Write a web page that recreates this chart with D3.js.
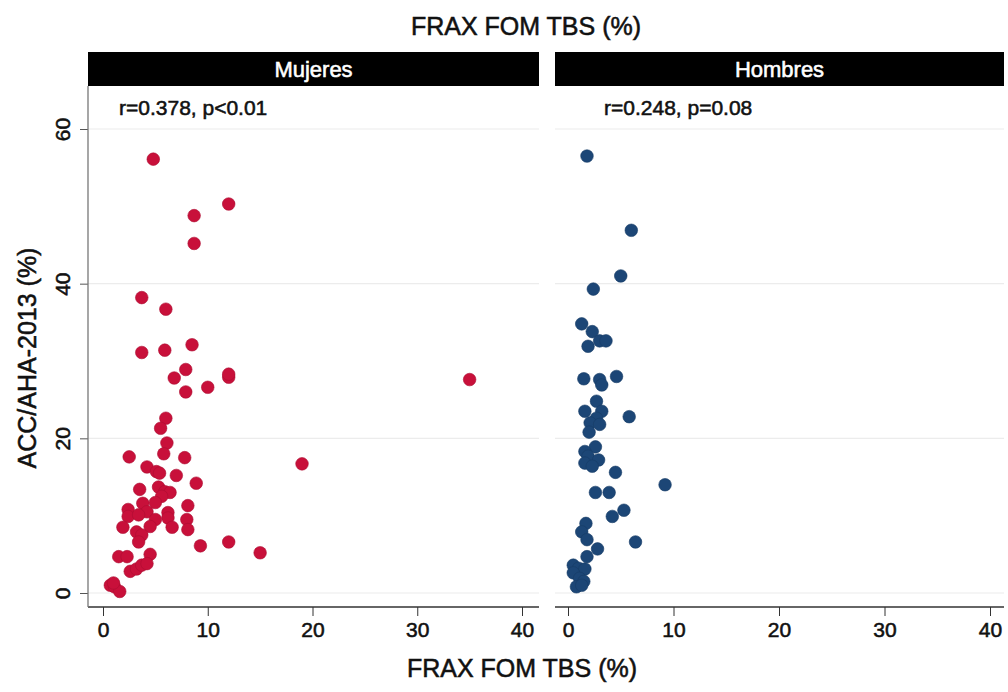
<!DOCTYPE html>
<html><head><meta charset="utf-8">
<script src="https://cdn.jsdelivr.net/npm/d3@7"></script>
<style>body{margin:0;background:#fff;} text{font-family:"Liberation Sans",Arial,Helvetica,sans-serif;}</style>
</head><body>
<svg id="c" width="1008" height="692"></svg>
<script>
const panels = ["Mujeres", "Hombres"];
const annotations = ["r=0.378, p<0.01", "r=0.248, p=0.08"];
const xTicks = [0, 10, 20, 30, 40];
const yTicks = [0, 20, 40, 60];
const womenX = [4.8,12.0,8.7,8.7,3.7,6.0,3.7,5.9,8.5,7.9,6.8,12.0,12.0,10.0,7.9,15.0,35.0,19.0,6.0,5.5,6.1,5.8,2.5,7.8,4.2,5.1,5.4,7.0,8.9,3.5,5.3,5.9,6.4,5.6,5.0,3.8,8.1,2.4,4.2,6.2,2.4,3.4,5.0,6.2,8.0,1.9,4.5,6.6,8.1,3.2,3.7,3.4,12.0,9.3,1.5,2.3,4.5,2.6,3.2,3.7,4.2,0.7,1.1,1.6,1.0];
const womenY = [56.1,50.3,48.8,45.2,38.2,36.7,31.1,31.4,32.1,28.9,27.8,27.9,28.3,26.6,26.0,5.2,27.6,16.7,22.6,21.3,19.4,18.0,17.6,17.5,16.3,15.7,15.5,15.2,14.2,13.4,13.7,13.1,13.0,12.5,11.7,11.6,11.3,10.8,10.5,10.4,9.9,10.1,9.5,9.7,9.5,8.5,8.6,8.5,8.2,7.9,7.5,6.6,6.6,6.1,4.7,4.7,5.0,2.8,3.1,3.6,3.8,1.0,0.8,0.2,1.3];
const menX = [1.8,6.0,5.0,2.4,1.3,2.3,3.0,3.6,1.9,1.5,3.0,3.2,4.6,2.7,1.6,3.2,5.8,2.7,2.1,3.0,2.0,2.6,1.6,1.9,2.9,1.6,2.3,4.5,9.2,2.6,3.9,5.3,4.2,1.7,1.3,1.8,6.4,2.8,1.8,0.5,1.0,1.6,0.5,1.1,1.5,0.8,1.3];
const menY = [56.5,46.9,41.0,39.3,34.8,33.8,32.6,32.6,31.9,27.7,27.6,26.9,28.0,24.8,23.5,23.5,22.8,22.6,22.0,21.8,20.8,18.9,18.3,17.7,17.2,16.8,16.4,15.6,14.0,13.0,13.0,10.7,9.9,9.0,7.9,6.9,6.6,5.7,4.7,3.6,3.2,3.1,2.6,1.9,1.5,0.8,1.0];
const colors = ["#c8103a", "#1c4676"];

const svg = d3.select("#c");
const plotTop = 86, plotBottom = 607;
const boxes = [{x0: 88, x1: 539}, {x0: 555, x1: 1004}];
const y = d3.scaleLinear().domain([0, 60]).range([593, 129]);
const xs = [
  d3.scaleLinear().domain([0, 40]).range([103, 522]),
  d3.scaleLinear().domain([0, 40]).range([568, 990])
];
const data = [
  womenX.map((v, i) => [v, womenY[i]]),
  menX.map((v, i) => [v, menY[i]])
];
function heavy(sel, col) { return sel.attr("fill", col).attr("stroke", col).attr("stroke-width", 0.55); }

heavy(svg.append("text").attr("x", 526).attr("y", 35).attr("text-anchor", "middle")
  .attr("font-size", 25).text("FRAX FOM TBS (%)"), "#111");

panels.forEach((name, p) => {
  const b = boxes[p], x = xs[p];
  const g = svg.append("g");
  g.selectAll(".grid").data(yTicks).enter().append("line")
    .attr("x1", b.x0).attr("x2", b.x1).attr("y1", d => y(d)).attr("y2", d => y(d))
    .attr("stroke", "#ececec").attr("stroke-width", 1.2);
  g.append("rect").attr("x", b.x0).attr("y", 52).attr("width", b.x1 - b.x0).attr("height", plotTop - 52).attr("fill", "#000");
  heavy(g.append("text").attr("x", (b.x0 + b.x1) / 2).attr("y", 77).attr("text-anchor", "middle")
    .attr("font-size", 22).text(name), "#fff");
  heavy(g.append("text").attr("x", p === 0 ? 119 : 604).attr("y", 115)
    .attr("font-size", 21).text(annotations[p]), "#111");
  const xa = g.append("g").attr("transform", `translate(0,${plotBottom})`)
    .call(d3.axisBottom(x).tickValues(xTicks).tickSize(9).tickPadding(6));
  xa.select(".domain").remove();
  xa.selectAll("line").attr("stroke", "#333");
  heavy(xa.selectAll("text").attr("font-size", 21)
    .style("font-family", "'Liberation Sans',Arial,sans-serif"), "#111");
  g.append("line").attr("x1", b.x0).attr("x2", b.x1).attr("y1", plotBottom).attr("y2", plotBottom)
    .attr("stroke", "#333").attr("stroke-width", 1.3);
  g.selectAll(".pt").data(data[p]).enter().append("circle")
    .attr("cx", d => x(d[0])).attr("cy", d => y(d[1])).attr("r", 6.3)
    .attr("fill", colors[p]).attr("stroke", d3.color(colors[p]).darker(0.4)).attr("stroke-width", 0.6);
});

const ya = svg.append("g").attr("transform", "translate(88,0)")
  .call(d3.axisLeft(y).tickValues(yTicks).tickSize(8).tickPadding(4));
ya.select(".domain").remove();
ya.selectAll("line").attr("stroke", "#555");
heavy(ya.selectAll("text").attr("font-size", 21).attr("text-anchor", "middle")
  .style("font-family", "'Liberation Sans',Arial,sans-serif")
  .attr("x", null).attr("transform", "translate(-25,0) rotate(-90)").attr("dy", "0.35em"), "#111");
svg.append("line").attr("x1", 88).attr("x2", 88).attr("y1", plotTop).attr("y2", plotBottom)
  .attr("stroke", "#777").attr("stroke-width", 1.3);

heavy(svg.append("text").attr("transform", "translate(36,358) rotate(-90)").attr("text-anchor", "middle")
  .attr("font-size", 25).text("ACC/AHA-2013 (%)"), "#111");
heavy(svg.append("text").attr("x", 522).attr("y", 677).attr("text-anchor", "middle")
  .attr("font-size", 25).text("FRAX FOM TBS (%)"), "#111");
</script>
</body></html>
